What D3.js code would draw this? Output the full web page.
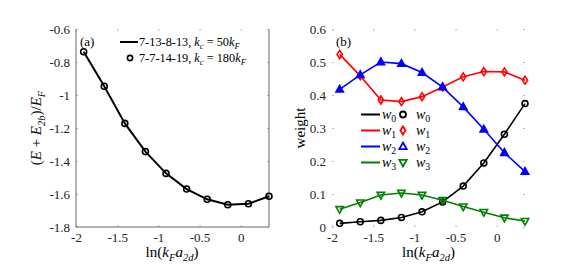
<!DOCTYPE html>
<html>
<head>
<meta charset="utf-8">
<script src="https://cdn.jsdelivr.net/npm/d3@7"></script>
<style>
  body { margin: 0; background: #fff; }
  svg text { font-family: "Liberation Serif", "DejaVu Serif", serif; }
</style>
</head>
<body>
<svg width="581" height="275"></svg>
<script>
// x positions, ln(kF a2d)
const lnKa = [-1.907, -1.657, -1.407, -1.157, -0.907, -0.657, -0.407, -0.157, 0.093, 0.343];

// panel (a) energies
const energy = [-0.738, -0.947, -1.172, -1.343, -1.475, -1.570, -1.632, -1.665, -1.659, -1.614];

// panel (b) weights
const w0 = [0.011, 0.016, 0.020, 0.029, 0.046, 0.076, 0.124, 0.194, 0.281, 0.374];
const w1 = [0.523, 0.458, 0.385, 0.380, 0.395, 0.424, 0.455, 0.471, 0.470, 0.445];
const w2 = [0.417, 0.461, 0.500, 0.495, 0.468, 0.424, 0.364, 0.296, 0.225, 0.168];
const w3 = [0.054, 0.074, 0.097, 0.103, 0.097, 0.081, 0.062, 0.045, 0.028, 0.018];

const xTicks = [-2, -1.5, -1, -0.5, 0];
const yTicksA = [-0.6, -0.8, -1, -1.2, -1.4, -1.6, -1.8];
const yTicksB = [0, 0.1, 0.2, 0.3, 0.4, 0.5, 0.6];

const svg = d3.select("svg");
const plotTop = 29, plotBottom = 227;

// add text with simple sub/italic runs: parts = [[text, italic, sub]]
function richText(g, parts, size) {
  const t = g.append("text").attr("font-size", size);
  const shift = size * 0.28;
  let low = false;
  parts.forEach(p => {
    const s = t.append("tspan").text(p[0]);
    if (p[1]) s.attr("font-style", "italic");
    if (p[2]) {
      s.attr("font-size", size * 0.7);
      if (!low) { s.attr("dy", shift); low = true; }
    } else if (low) {
      s.attr("dy", -shift); low = false;
    }
  });
  return t;
}

function drawAxes(g, x, y, yTicks, withLines) {
  g.append("g").attr("transform", `translate(0,${plotBottom})`)
    .call(d3.axisBottom(x).tickValues(xTicks).tickSize(-2).tickPadding(6).tickFormat(d => String(d)));
  g.append("g").attr("transform", `translate(${x.range()[0]},0)`)
    .call(d3.axisLeft(y).tickValues(yTicks).tickSize(-2).tickPadding(6).tickFormat(d => String(d)));
  // top and right ticks
  g.append("g").attr("transform", `translate(0,${plotTop})`)
    .call(d3.axisTop(x).tickValues(xTicks).tickSize(-2).tickFormat(""));
  g.append("g").attr("transform", `translate(${x.range()[1]},0)`)
    .call(d3.axisRight(y).tickValues(yTicks).tickSize(-2).tickFormat(""));
  g.selectAll(".domain").remove();
  g.selectAll(".tick line").attr("stroke", "#bbb");
  g.selectAll(".tick text").attr("font-size", 13).attr("fill", "#222")
    .attr("font-family", "Liberation Serif, serif");
  if (withLines) {
    const [x0, x1] = x.range();
    g.append("line").attr("x1", x0).attr("x2", x0).attr("y1", plotTop).attr("y2", plotBottom).attr("stroke", "#666");
    g.append("line").attr("x1", x0).attr("x2", x1).attr("y1", plotBottom).attr("y2", plotBottom).attr("stroke", "#666");
    g.append("line").attr("x1", x1).attr("x2", x1).attr("y1", plotTop).attr("y2", plotBottom).attr("stroke", "#666");
  }
}

// ---------- panel (a) ----------
const xA = d3.scaleLinear().domain([-2, 0.343]).range([76, 269]);
const yA = d3.scaleLinear().domain([-1.8, -0.6]).range([plotBottom, plotTop]);
const gA = svg.append("g");
drawAxes(gA, xA, yA, yTicksA, true);

const ptsA = lnKa.map((v, i) => [v, energy[i]]);
gA.append("path").datum(ptsA)
  .attr("d", d3.line().x(d => xA(d[0])).y(d => yA(d[1])))
  .attr("fill", "none").attr("stroke", "#000").attr("stroke-width", 2);
gA.selectAll("circle.pt").data(ptsA).enter().append("circle")
  .attr("cx", d => xA(d[0])).attr("cy", d => yA(d[1])).attr("r", 3)
  .attr("fill", "none").attr("stroke", "#000").attr("stroke-width", 1.6);

richText(gA, [["(a)", false, false]], 13).attr("x", 80).attr("y", 46);

// legend (a)
gA.append("line").attr("x1", 120).attr("x2", 138).attr("y1", 42).attr("y2", 42)
  .attr("stroke", "#000").attr("stroke-width", 2);
richText(gA, [["7-13-8-13, ", false, false], ["k", true, false], ["c", true, true],
  [" = 50", false, false], ["k", true, false], ["F", true, true]], 12.3)
  .attr("x", 139).attr("y", 46);
gA.append("circle").attr("cx", 130).attr("cy", 58).attr("r", 2.6)
  .attr("fill", "none").attr("stroke", "#000").attr("stroke-width", 1.6);
richText(gA, [["7-7-14-19, ", false, false], ["k", true, false], ["c", true, true],
  [" = 180", false, false], ["k", true, false], ["F", true, true]], 12.3)
  .attr("x", 139).attr("y", 62);

// axis labels (a)
richText(gA, [["ln(", false, false], ["k", true, false], ["F", true, true], ["a", true, false], ["2d", true, true], [")", false, false]], 15)
  .attr("text-anchor", "middle").attr("x", 172).attr("y", 257);
richText(gA, [["(", false, false], ["E", true, false], [" + ", false, false], ["E", true, false], ["2b", true, true],
  [")/", false, false], ["E", true, false], ["F", true, true]], 15)
  .attr("text-anchor", "middle").attr("transform", "translate(41,128) rotate(-90)");

// ---------- panel (b) ----------
const xB = d3.scaleLinear().domain([-2, 0.343]).range([332, 525]);
const yB = d3.scaleLinear().domain([0, 0.6]).range([plotBottom, plotTop]);
const gB = svg.append("g");
drawAxes(gB, xB, yB, yTicksB, false);

const series = [
  { name: "0", vals: w0, color: "#000000", marker: "circle" },
  { name: "1", vals: w1, color: "#ff0000", marker: "diamond" },
  { name: "2", vals: w2, color: "#0000ff", marker: "triangle" },
  { name: "3", vals: w3, color: "#008000", marker: "down" }
];

function markerPath(type) {
  if (type === "circle") return d3.symbol().type(d3.symbolCircle).size(28)();
  if (type === "diamond") return "M0,-4L2.6,0L0,4L-2.6,0Z";
  if (type === "triangle") return "M0,-4L3.7,2.6L-3.7,2.6Z";
  return "M0,4L3.7,-2.6L-3.7,-2.6Z";
}

series.forEach(s => {
  const pts = lnKa.map((v, i) => [v, s.vals[i]]);
  gB.append("path").datum(pts)
    .attr("d", d3.line().x(d => xB(d[0])).y(d => yB(d[1])))
    .attr("fill", "none").attr("stroke", s.color).attr("stroke-width", 1.6);
  gB.selectAll(null).data(pts).enter().append("path")
    .attr("d", markerPath(s.marker))
    .attr("transform", d => `translate(${xB(d[0])},${yB(d[1])})`)
    .attr("fill", s.marker === "triangle" ? s.color : "none")
    .attr("stroke", s.color).attr("stroke-width", 1.6);
});

richText(gB, [["(b)", false, false]], 13).attr("x", 336).attr("y", 46);

// legend (b)
const legY = [114.5, 130.5, 146.5, 162.5];
series.forEach((s, i) => {
  const y = legY[i];
  gB.append("line").attr("x1", 361).attr("x2", 380).attr("y1", y).attr("y2", y)
    .attr("stroke", s.color).attr("stroke-width", 2);
  richText(gB, [["w", true, false], [s.name, false, true]], 14).attr("x", 382).attr("y", y + 4);
  gB.append("path").attr("d", markerPath(s.marker))
    .attr("transform", `translate(403,${y})`)
    .attr("fill", "none").attr("stroke", s.color).attr("stroke-width", 1.8);
  richText(gB, [["w", true, false], [s.name, false, true]], 14).attr("x", 416).attr("y", y + 4);
});

// axis labels (b)
richText(gB, [["ln(", false, false], ["k", true, false], ["F", true, true], ["a", true, false], ["2d", true, true], [")", false, false]], 15)
  .attr("text-anchor", "middle").attr("x", 428.5).attr("y", 257);
richText(gB, [["weight", false, false]], 15)
  .attr("text-anchor", "middle").attr("transform", "translate(305,128) rotate(-90)");
</script>
</body>
</html>
